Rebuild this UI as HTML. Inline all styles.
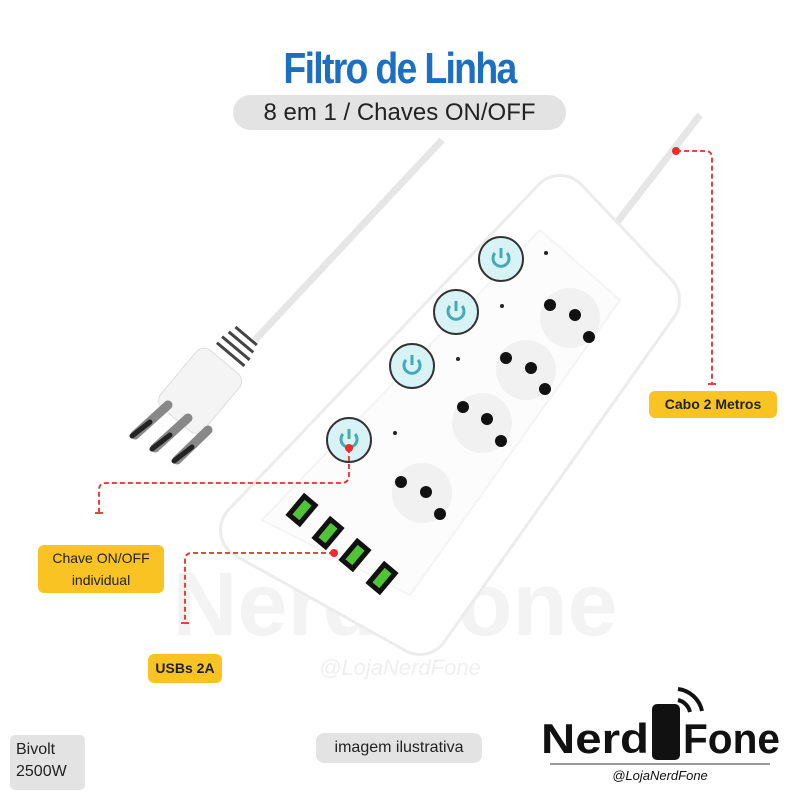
<!DOCTYPE html>
<html><head><meta charset="utf-8"><style>
body{margin:0;width:799px;height:799px;background:#fff;overflow:hidden;position:relative;font-family:"Liberation Sans",sans-serif}
.a{position:absolute}
.tag{position:absolute;background:#f9c423;border-radius:6px;font-weight:bold;font-size:14px;color:#222;text-align:center}
</style></head><body>
<div class="a" style="left:0;top:44px;width:799px;text-align:center;font-size:44px;font-weight:bold;color:#1c6fc1;letter-spacing:-2px;transform:scaleX(0.85)">Filtro de Linha</div>
<div class="a" style="left:233px;top:95px;width:333px;height:35px;background:#e3e3e3;border-radius:18px;text-align:center;line-height:35px;font-size:24px;color:#222">8 em 1 / Chaves ON/OFF</div>
<svg class="a" style="left:0;top:0" width="799" height="799">
<text x="395" y="635" font-size="90" font-weight="bold" fill="#f3f3f3" text-anchor="middle" font-family="Liberation Sans">Nerd  Fone</text>
<text x="400" y="675" font-size="22" font-style="italic" fill="#efefef" text-anchor="middle" font-family="Liberation Sans">@LojaNerdFone</text>
<line x1="442" y1="140" x2="255" y2="340" stroke="#e6e6e6" stroke-width="7"/>
<line x1="700" y1="115" x2="615" y2="225" stroke="#e6e6e6" stroke-width="7"/>
<polygon points="250,530 560,205 650,300 420,625" fill="#fff" stroke="#ececec" stroke-width="62" stroke-linejoin="round"/>
<polygon points="250,530 560,205 650,300 420,625" fill="#fff" stroke="#fff" stroke-width="56" stroke-linejoin="round"/>
<polygon points="262,520 540,230 620,300 410,595" fill="#fcfcfc" stroke="#f4f4f4" stroke-width="2" stroke-linejoin="round"/>
<g transform="translate(205,385) rotate(40)">
<rect x="-28" y="-30" width="56" height="75" rx="10" fill="#f4f4f4" stroke="#ddd"/>
<g stroke="#444" stroke-width="3"><line x1="-18" y1="-40" x2="18" y2="-40"/><line x1="-18" y1="-48" x2="18" y2="-48"/><line x1="-16" y1="-56" x2="16" y2="-56"/><line x1="-14" y1="-64" x2="14" y2="-64"/></g>
</g>
<g stroke="#888" stroke-width="9" stroke-linecap="round"><line x1="168" y1="405" x2="135" y2="435"/><line x1="188" y1="418" x2="155" y2="448"/><line x1="208" y1="430" x2="177" y2="460"/></g>
<g stroke="#222" stroke-width="5" stroke-linecap="round"><line x1="150" y1="422" x2="132" y2="436"/><line x1="170" y1="435" x2="152" y2="449"/><line x1="192" y1="447" x2="174" y2="461"/></g>
<g fill="#d8f3f6" stroke="#333" stroke-width="2">
<circle cx="501" cy="259" r="22"/><circle cx="456" cy="312" r="22"/><circle cx="412" cy="366" r="22"/><circle cx="349" cy="440" r="22"/></g>
<g fill="none" stroke="#46a9b3" stroke-width="3">
<path d="M495 253 a8 8 0 1 0 12 0M501 248v10"/><path d="M450 306 a8 8 0 1 0 12 0M456 301v10"/><path d="M406 360 a8 8 0 1 0 12 0M412 355v10"/><path d="M343 434 a8 8 0 1 0 12 0M349 429v10"/></g>
<g fill="#222"><circle cx="546" cy="253" r="2"/><circle cx="502" cy="306" r="2"/><circle cx="458" cy="359" r="2"/><circle cx="395" cy="433" r="2"/></g>
<g fill="#f1f1f1"><circle cx="570" cy="318" r="30"/><circle cx="526" cy="370" r="30"/><circle cx="482" cy="423" r="30"/><circle cx="422" cy="493" r="30"/></g>
<g fill="#111">
<circle cx="550" cy="305" r="6"/><circle cx="575" cy="315" r="6"/><circle cx="589" cy="337" r="6"/>
<circle cx="506" cy="358" r="6"/><circle cx="531" cy="368" r="6"/><circle cx="545" cy="389" r="6"/>
<circle cx="463" cy="407" r="6"/><circle cx="487" cy="419" r="6"/><circle cx="501" cy="441" r="6"/>
<circle cx="401" cy="482" r="6"/><circle cx="426" cy="492" r="6"/><circle cx="440" cy="514" r="6"/></g>
<g fill="#4fc437" stroke="#111" stroke-width="5">
<rect x="-12" y="-7" width="24" height="14" transform="translate(302,510) rotate(-50)"/>
<rect x="-12" y="-7" width="24" height="14" transform="translate(328,533) rotate(-50)"/>
<rect x="-12" y="-7" width="24" height="14" transform="translate(355,555) rotate(-50)"/>
<rect x="-12" y="-7" width="24" height="14" transform="translate(382,578) rotate(-50)"/></g>
<g fill="none" stroke="#ee2a2a" stroke-width="1.8" stroke-dasharray="5,3">
<path d="M676 151H705q7 0 7 7V383"/>
<path d="M349 448V475q0 8-8 8H106q-7 0-7 7V512"/>
<path d="M334 553H192q-7 0-7 7V622"/></g>
<g fill="#ee2a2a"><circle cx="676" cy="151" r="4"/><circle cx="349" cy="448" r="4"/><circle cx="334" cy="553" r="4"/></g>
<g stroke="#ee2a2a" stroke-width="1.8"><line x1="708" y1="384" x2="716" y2="384"/><line x1="95" y1="513" x2="103" y2="513"/><line x1="181" y1="623" x2="189" y2="623"/></g>
</svg>
<div class="tag" style="left:649px;top:391px;width:128px;height:27px;line-height:27px">Cabo 2 Metros</div>
<div class="tag" style="left:38px;top:545px;width:126px;height:48px;line-height:22px;font-weight:normal;padding-top:2px;box-sizing:border-box">Chave ON/OFF<br>individual</div>
<div class="tag" style="left:148px;top:654px;width:74px;height:29px;line-height:29px">USBs 2A</div>
<div class="a" style="left:10px;top:735px;width:75px;height:55px;background:#e3e3e3;border-radius:5px;font-size:16px;line-height:22px;padding:4px 6px;box-sizing:border-box;color:#222">Bivolt<br>2500W</div>
<div class="a" style="left:316px;top:733px;width:166px;height:30px;background:#e3e3e3;border-radius:8px;font-size:16px;line-height:30px;text-align:center;color:#222">imagem ilustrativa</div>
<svg class="a" style="left:530px;top:680px" width="269" height="110">
<text x="11" y="73" font-size="42" font-weight="bold" fill="#111" font-family="Liberation Sans" textLength="108" lengthAdjust="spacingAndGlyphs">Nerd</text>
<rect x="122" y="24" width="28" height="56" rx="5" fill="#111"/>
<path d="M148 20a16 16 0 0 1 12 12M148 9a28 28 0 0 1 24 22" stroke="#111" stroke-width="4" fill="none"/>
<text x="153" y="73" font-size="42" font-weight="bold" fill="#111" font-family="Liberation Sans" textLength="97" lengthAdjust="spacingAndGlyphs">Fone</text>
<line x1="20" y1="84" x2="240" y2="84" stroke="#333"/>
<text x="130" y="100" font-size="13" font-style="italic" text-anchor="middle" fill="#111" font-family="Liberation Sans">@LojaNerdFone</text>
</svg>
</body></html>
